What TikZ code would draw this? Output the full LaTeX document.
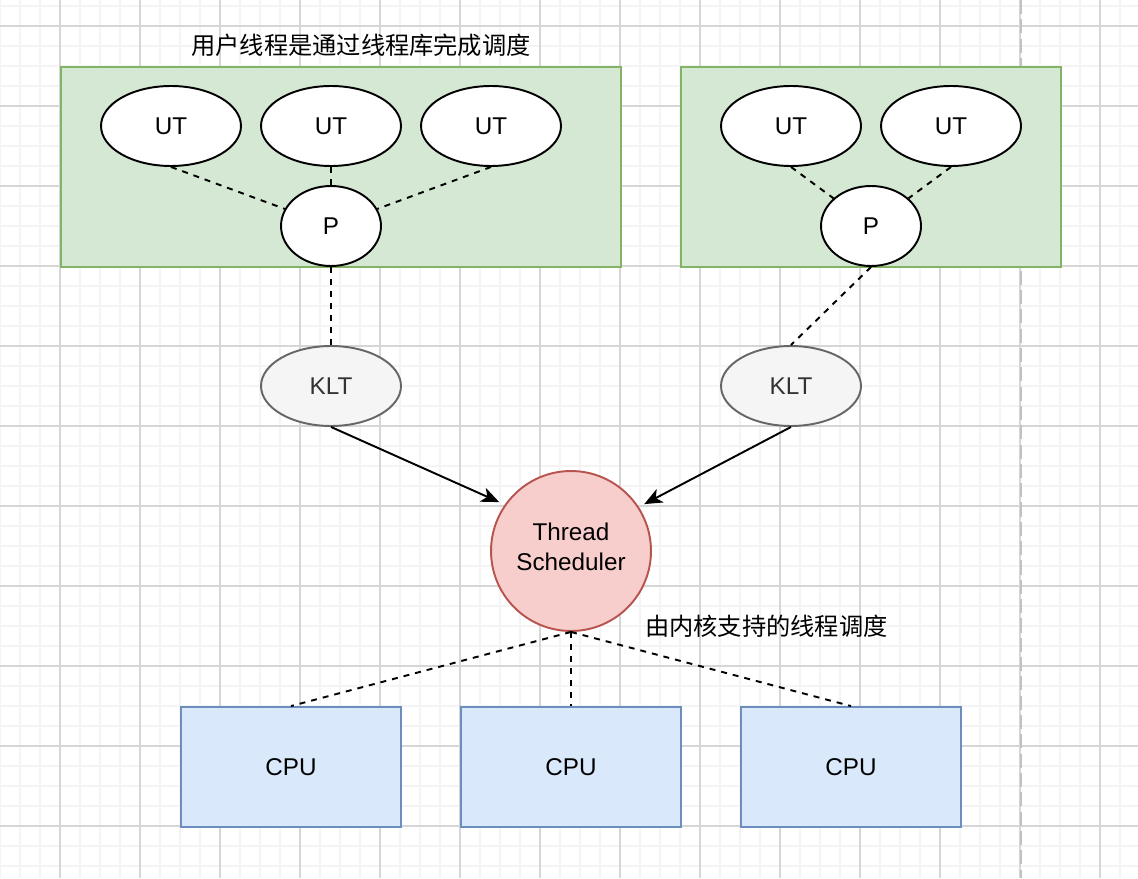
\documentclass[tikz,border=0pt]{standalone}
\usepackage{fontspec}
\setmainfont{Liberation Sans}
\newfontfamily\cjk{Noto Sans CJK SC}
\usepackage{tikz}
\usetikzlibrary{shapes.geometric,arrows.meta}

\definecolor{greenfill}{HTML}{D5E8D4}
\definecolor{greenline}{HTML}{82B366}
\definecolor{greyfill}{HTML}{F5F5F5}
\definecolor{greyline}{HTML}{666666}
\definecolor{greytext}{HTML}{333333}
\definecolor{redfill}{HTML}{F8CECC}
\definecolor{redline}{HTML}{B85450}
\definecolor{bluefill}{HTML}{DAE8FC}
\definecolor{blueline}{HTML}{6C8EBF}
\definecolor{minorgrid}{HTML}{F4F4F4}
\definecolor{majorgrid}{HTML}{D6D6D6}

\tikzset{
  every node/.style={font=\fontsize{13.8}{17}\selectfont},
  library/.style={draw=greenline,fill=greenfill,line width=1.1pt,minimum height=4cm},
  uthread/.style={ellipse,draw,fill=white,line width=1.1pt,minimum width=2.8cm,minimum height=1.6cm,inner sep=0pt},
  proc/.style={ellipse,draw,fill=white,line width=1.1pt,minimum width=2cm,minimum height=1.6cm,inner sep=0pt},
  klt/.style={ellipse,draw=greyline,fill=greyfill,text=greytext,line width=1.1pt,minimum width=2.8cm,minimum height=1.6cm,inner sep=0pt},
  cpubox/.style={draw=blueline,fill=bluefill,line width=1.1pt,minimum width=4.4cm,minimum height=2.4cm},
  link/.style={line width=1.1pt,dash pattern=on 3.4pt off 3.4pt},
  dispatch/.style={line width=1.1pt,-{Stealth[length=0.36cm,width=0.3cm,inset=0.1cm]},shorten >=0.18cm}
}

\begin{document}
\begin{tikzpicture}[x=0.02cm,y=-0.02cm]
\useasboundingbox (0,0) rectangle (1138,878);

% The grid
\fill[white] (0,0) rectangle (1138,878);
\foreach \x in {0,20,...,1120} \draw[minorgrid,line width=0.6pt] (\x,0) -- (\x,878);
\foreach \y in {6,26,...,866} \draw[minorgrid,line width=0.6pt] (0,\y) -- (1138,\y);
\foreach \x in {60,140,...,1100} \draw[majorgrid,line width=0.6pt] (\x,0) -- (\x,878);
\foreach \y in {26,106,...,826} \draw[majorgrid,line width=0.6pt] (0,\y) -- (1138,\y);
\draw[majorgrid!90!black,line width=1.1pt,dash pattern=on 8pt off 3pt] (1021,0) -- (1021,878);

% The thread libraries
\node[library,minimum width=11.2cm] (lib1) at (341,167) {};
\node[library,minimum width=7.6cm] (lib2) at (871,167) {};
\node (title) at (361,45) {\cjk 用户线程是通过线程库完成调度};

% The user threads
\node[uthread] (ut1) at (171,126) {UT};
\node[uthread] (ut2) at (331,126) {UT};
\node[uthread] (ut3) at (491,126) {UT};
\node[proc] (p1) at (331,226) {P};
\node[uthread] (ut4) at (791,126) {UT};
\node[uthread] (ut5) at (951,126) {UT};
\node[proc] (p2) at (871,226) {P};

% The kernel threads
\node[klt] (klt1) at (331,386) {KLT};
\node[klt] (klt2) at (791,386) {KLT};
\node[circle,draw=redline,fill=redfill,line width=1.1pt,minimum size=3.2cm,align=center,inner sep=0pt] (sched) at (571,551) {Thread\\Scheduler\\[-12.4pt]\mbox{}};
\node[anchor=west] (note) at (639,626) {\cjk 由内核支持的线程调度};

% The processors
\node[cpubox] (cpu1) at (291,767) {CPU};
\node[cpubox] (cpu2) at (571,767) {CPU};
\node[cpubox] (cpu3) at (851,767) {CPU};

% The links
\draw[link] (ut1.south) -- (p1);
\draw[link] (ut2.south) -- (p1.north);
\draw[link] (ut3.south) -- (p1);
\draw[link] (ut4.south) -- (p2);
\draw[link] (ut5.south) -- (p2);
\draw[link] (p1.south) -- (klt1.north);
\draw[link] (p2.south) -- (klt2.north);
\draw[dispatch,shorten >=0.12cm] (klt1.south) -- (sched.145);
\draw[dispatch,shorten >=0.12cm] (klt2.south) -- (sched.33);
\draw[link] (sched.south) -- (cpu1.north);
\draw[link] (sched.south) -- (cpu2.north);
\draw[link] (sched.south) -- (cpu3.north);
\end{tikzpicture}
\end{document}
